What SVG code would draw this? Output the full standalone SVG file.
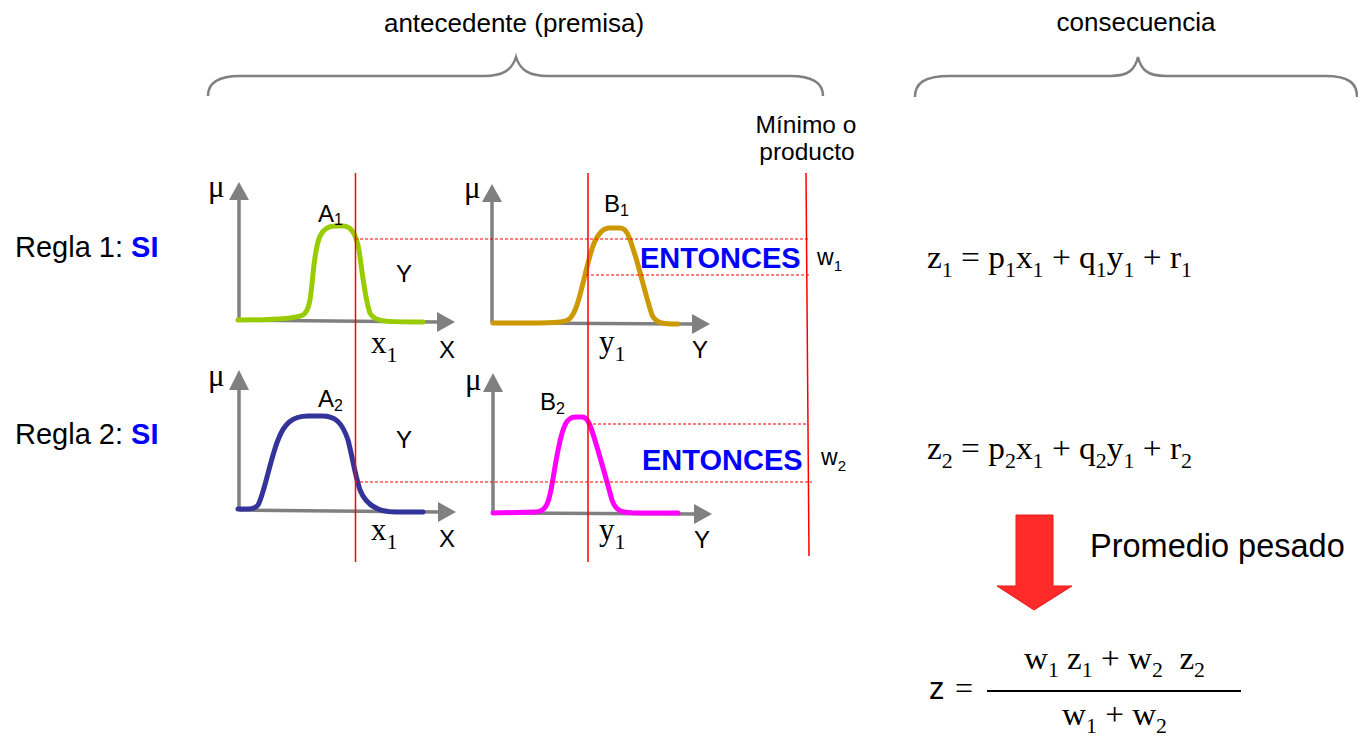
<svg xmlns="http://www.w3.org/2000/svg" width="1358" height="738" viewBox="0 0 1358 738">
<style>
.sans{font-family:"Liberation Sans",Arial,sans-serif;fill:#000}
.serif{font-family:"Liberation Serif","Times New Roman",serif;fill:#000}
.blue{font-family:"Liberation Sans",Arial,sans-serif;font-weight:bold;fill:#0000ff}
.mu{font-family:"Liberation Serif","Times New Roman",serif;fill:#000;font-size:31px}
.axis{stroke:#808080;stroke-width:3.5;fill:none}
.head{fill:#808080}
.brace{stroke:#808080;stroke-width:2.5;fill:none}
.cut{stroke:#ff0000;stroke-width:1.5;fill:none}
.dash{stroke:#ff0000;stroke-width:1.2;stroke-dasharray:3 2;fill:none}
.mf{fill:none;stroke-width:5;stroke-linecap:round;stroke-linejoin:round}
.sub{font-size:21px}
</style>
<rect width="1358" height="738" fill="#fff"/>

<g id="brace-antecedente">
<path class="brace" d="M208,96 C208,84 216,76 240,76 L484,76 C503,76 512,70 516,57 C520,70 529,76 548,76 L790,76 C814,76 823,84 823,96"/>
<text class="sans" x="514" y="32" font-size="26" text-anchor="middle">antecedente (premisa)</text>
</g>
<g id="brace-consecuencia">
<path class="brace" d="M915,97 C915,84 923,76 950,76 L1110,76 C1128,76 1135,70 1138,57 C1141,70 1148,76 1166,76 L1325,76 C1350,76 1357,84 1357,97"/>
<text class="sans" x="1136" y="31" font-size="26" text-anchor="middle">consecuencia</text>
</g>

<g id="label-minimo">
<text class="sans" x="806" y="133" font-size="24.5" text-anchor="middle">Mínimo o</text>
<text class="sans" x="807" y="160" font-size="24.5" text-anchor="middle">producto</text>
</g>

<g id="regla1">
<text class="sans" x="15" y="257" font-size="29">Regla 1: <tspan class="blue">SI</tspan></text>
</g>
<g id="regla2">
<text class="sans" x="15" y="444" font-size="29">Regla 2: <tspan class="blue">SI</tspan></text>
</g>

<g id="plot-A1">
<line class="axis" x1="239" y1="321" x2="239" y2="198"/>
<polygon class="head" points="229,200 249,200 239,182"/>
<line class="axis" x1="239" y1="320" x2="438" y2="322"/>
<polygon class="head" points="437,312 437,332 455,322"/>
<path class="mf" stroke="#99cc00" d="M238,320 C270,320 295,319 303,315 C311,310 311,290 314,265 C317,240 320,226 335,226 L343,226 C352,226 356,235 359,250 C362,270 365,300 370,313 C374,322 385,322 423,322"/>
<text class="mu" x="208" y="197">μ</text>
<text class="sans" x="318" y="222" font-size="24">A<tspan font-size="16" dy="3">1</tspan></text>
<text class="sans" x="396" y="282" font-size="24">Y</text>
<text class="serif" x="371" y="353" font-size="31">x<tspan font-size="22" dy="9">1</tspan></text>
<text class="sans" x="439" y="358" font-size="24">X</text>
</g>

<g id="plot-B1">
<line class="axis" x1="492" y1="323" x2="492" y2="200"/>
<polygon class="head" points="482,202 502,202 492,184"/>
<line class="axis" x1="492" y1="323" x2="693" y2="324"/>
<polygon class="head" points="692,314 692,334 710,324"/>
<path class="mf" stroke="#cc9900" d="M493,323 C530,323 560,324 568,320 C576,315 580,295 585,275 C590,255 595,230 608,228 L620,228 C628,228 630,240 636,258 C641,275 647,300 652,315 C656,324 665,324 678,324"/>
<text class="mu" x="464" y="198">μ</text>
<text class="sans" x="604" y="212" font-size="24">B<tspan font-size="16" dy="4">1</tspan></text>
<text class="serif" x="599" y="352" font-size="31">y<tspan font-size="22" dy="9">1</tspan></text>
<text class="sans" x="692" y="358" font-size="24">Y</text>
<text class="blue" x="640" y="268" font-size="29">ENTONCES</text>
<text class="sans" x="817" y="265" font-size="23">w<tspan font-size="15" dy="6">1</tspan></text>
</g>

<g id="plot-A2">
<line class="axis" x1="239" y1="511" x2="239" y2="388"/>
<polygon class="head" points="229,390 249,390 239,370"/>
<line class="axis" x1="239" y1="510" x2="439" y2="512"/>
<polygon class="head" points="438,502 438,522 456,512"/>
<path class="mf" stroke="#333399" d="M238,509 C248,509 254,510 258,505 C264,495 270,460 278,440 C284,424 292,416 308,416 L322,416 C335,416 342,422 348,440 C352,455 355,475 360,490 C366,505 378,512 395,512 L423,512"/>
<text class="mu" x="208" y="386">μ</text>
<text class="sans" x="318" y="407" font-size="24">A<tspan font-size="16" dy="4">2</tspan></text>
<text class="sans" x="396" y="448" font-size="24">Y</text>
<text class="serif" x="371" y="540" font-size="31">x<tspan font-size="22" dy="9">1</tspan></text>
<text class="sans" x="439" y="547" font-size="24">X</text>
</g>

<g id="plot-B2">
<line class="axis" x1="493" y1="514" x2="493" y2="390"/>
<polygon class="head" points="483,392 503,392 493,373"/>
<line class="axis" x1="493" y1="513" x2="695" y2="514"/>
<polygon class="head" points="694,504 694,524 712,514"/>
<path class="mf" stroke="#ff00ff" d="M493,513 L535,512 C545,512 548,505 551,490 C555,470 558,440 565,425 C568,418 572,417 576,417 L582,417 C586,417 588,420 591,428 C597,445 605,475 612,500 C616,512 622,513 640,513 L678,513"/>
<text class="mu" x="465" y="390">μ</text>
<text class="sans" x="540" y="410" font-size="24">B<tspan font-size="16" dy="4">2</tspan></text>
<text class="serif" x="599" y="540" font-size="31">y<tspan font-size="22" dy="9">1</tspan></text>
<text class="sans" x="694" y="548" font-size="24">Y</text>
<text class="blue" x="642" y="470" font-size="29">ENTONCES</text>
<text class="sans" x="821" y="465" font-size="23">w<tspan font-size="15" dy="6">2</tspan></text>
</g>

<g id="connectors">
<line class="cut" x1="355.5" y1="173" x2="355.5" y2="562"/>
<line class="cut" x1="588" y1="173" x2="588" y2="562"/>
<line class="cut" x1="806" y1="173" x2="809" y2="556"/>
<line class="dash" x1="355" y1="239" x2="810" y2="239"/>
<line class="dash" x1="586" y1="275" x2="810" y2="275"/>
<line class="dash" x1="588" y1="424" x2="808" y2="424"/>
<line class="dash" x1="355" y1="482" x2="812" y2="482"/>
</g>

<g id="eq-z1">
<text class="serif" x="927" y="268" font-size="32" textLength="265" lengthAdjust="spacingAndGlyphs">z<tspan class="sub" dy="9">1</tspan><tspan dy="-9"> = p</tspan><tspan class="sub" dy="9">1</tspan><tspan dy="-9">x</tspan><tspan class="sub" dy="9">1</tspan><tspan dy="-9"> + q</tspan><tspan class="sub" dy="9">1</tspan><tspan dy="-9">y</tspan><tspan class="sub" dy="9">1</tspan><tspan dy="-9"> + r</tspan><tspan class="sub" dy="9">1</tspan></text>
</g>
<g id="eq-z2">
<text class="serif" x="927" y="459" font-size="32" textLength="265" lengthAdjust="spacingAndGlyphs">z<tspan class="sub" dy="9">2</tspan><tspan dy="-9"> = p</tspan><tspan class="sub" dy="9">2</tspan><tspan dy="-9">x</tspan><tspan class="sub" dy="9">1</tspan><tspan dy="-9"> + q</tspan><tspan class="sub" dy="9">2</tspan><tspan dy="-9">y</tspan><tspan class="sub" dy="9">1</tspan><tspan dy="-9"> + r</tspan><tspan class="sub" dy="9">2</tspan></text>
</g>

<g id="arrow-promedio">
<path d="M1016,515 L1053,515 L1053,586 L1072,586 L1034,610 L997,586 L1016,586 Z" fill="#ff2a2a" stroke="#e81818" stroke-width="1"/>
<text class="sans" x="1090" y="557" font-size="32.5">Promedio pesado</text>
</g>

<g id="eq-z">
<text class="sans" x="929" y="699" font-size="31">z</text>
<text class="serif" x="955" y="699" font-size="32">=</text>
<line x1="987" y1="691" x2="1241" y2="691" stroke="#000" stroke-width="2"/>
<text class="serif" x="1024" y="669" font-size="32" textLength="181" lengthAdjust="spacingAndGlyphs">w<tspan class="sub" dy="8">1</tspan><tspan dy="-8"> z</tspan><tspan class="sub" dy="8">1</tspan><tspan dy="-8"> + w</tspan><tspan class="sub" dy="8">2</tspan><tspan dy="-8" dx="8"> z</tspan><tspan class="sub" dy="8">2</tspan></text>
<text class="serif" x="1062" y="725" font-size="32" textLength="105" lengthAdjust="spacingAndGlyphs">w<tspan class="sub" dy="8">1</tspan><tspan dy="-8"> + w</tspan><tspan class="sub" dy="8">2</tspan></text>
</g>
</svg>
